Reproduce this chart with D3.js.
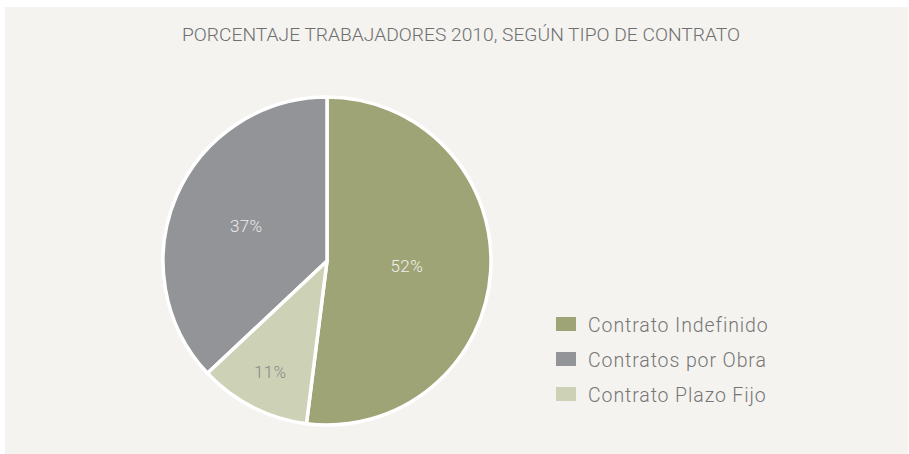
<!DOCTYPE html>
<html><head><meta charset="utf-8">
<script src="https://cdn.jsdelivr.net/npm/d3@7"></script>
<style>
html,body{margin:0;padding:0;background:#ffffff;}
svg{display:block;}
text{font-family:Roboto,"Noto Sans",sans-serif;}
</style></head>
<body>
<script>
// ---- data ----
const title = "PORCENTAJE TRABAJADORES 2010, SEGÚN TIPO DE CONTRATO";
const categories = ["Contrato Indefinido", "Contratos por Obra", "Contrato Plazo Fijo"];
const values = [52, 37, 11];
const pieOrder = ["Contrato Indefinido", "Contrato Plazo Fijo", "Contratos por Obra"];
const colors = ["#9ea475", "#939498", "#cdd1b6"];
const labelColors = ["#f1f1ec", "#ecebea", "#8a8a86"];

const W = 909, H = 454;
const svg = d3.select("body").append("svg").attr("width", W).attr("height", H);

svg.append("rect").attr("x", 5).attr("y", 7).attr("width", 903).attr("height", H - 7)
  .attr("fill", "#f4f3ef");

svg.append("text").attr("x", 461).attr("y", 41).attr("text-anchor", "middle")
  .attr("font-size", 17.5).attr("font-weight", 300).attr("fill", "#6f6f6f")
  .attr("textLength", 558).attr("lengthAdjust", "spacingAndGlyphs")
  .text(title);

const data = categories.map((c, i) => ({cat: c, value: values[i], color: colors[i], lc: labelColors[i]}));

const color = d3.scaleOrdinal().domain(categories).range(colors);

const pie = d3.pie().value(d => d.value)
  .sort((a, b) => pieOrder.indexOf(a.cat) - pieOrder.indexOf(b.cat));
const R = 164;
const cx = 327, cy = 261;
const arc = d3.arc().innerRadius(0).outerRadius(R);
const g = svg.append("g").attr("transform", `translate(${cx},${cy})`);
const arcs = pie(data);

g.selectAll("path").data(arcs).join("path")
  .attr("d", arc).attr("fill", d => color(d.data.cat))
  .attr("stroke", "#ffffff").attr("stroke-width", 3.5).attr("stroke-linejoin", "round");

// label radius by slice share
const lr = d => d.data.value < 20 ? 125 : (d.data.value > 50 ? 80 : 88);
g.selectAll("text.lbl").data(arcs).join("text").attr("class", "lbl")
  .attr("transform", d => {
    const a = (d.startAngle + d.endAngle) / 2;
    const r = lr(d);
    return `translate(${r * Math.sin(a)},${-r * Math.cos(a)})`;
  })
  .attr("text-anchor", "middle").attr("dy", "0.35em")
  .attr("font-size", 17).attr("font-weight", 300).attr("letter-spacing", 0.4)
  .attr("fill", d => d.data.lc)
  .text(d => d.data.value + "%");

// legend
const lg = svg.append("g").attr("transform", "translate(556,317)");
const items = lg.selectAll("g").data(data).join("g")
  .attr("transform", (d, i) => `translate(0,${i * 35})`);
items.append("rect").attr("width", 20).attr("height", 14).attr("fill", d => color(d.cat));
items.append("text").attr("x", 32).attr("y", 15).attr("font-size", 19.5).attr("font-weight", 300)
  .attr("letter-spacing", 0.9)
  .attr("fill", "#767676").text(d => d.cat);
</script>
</body></html>
